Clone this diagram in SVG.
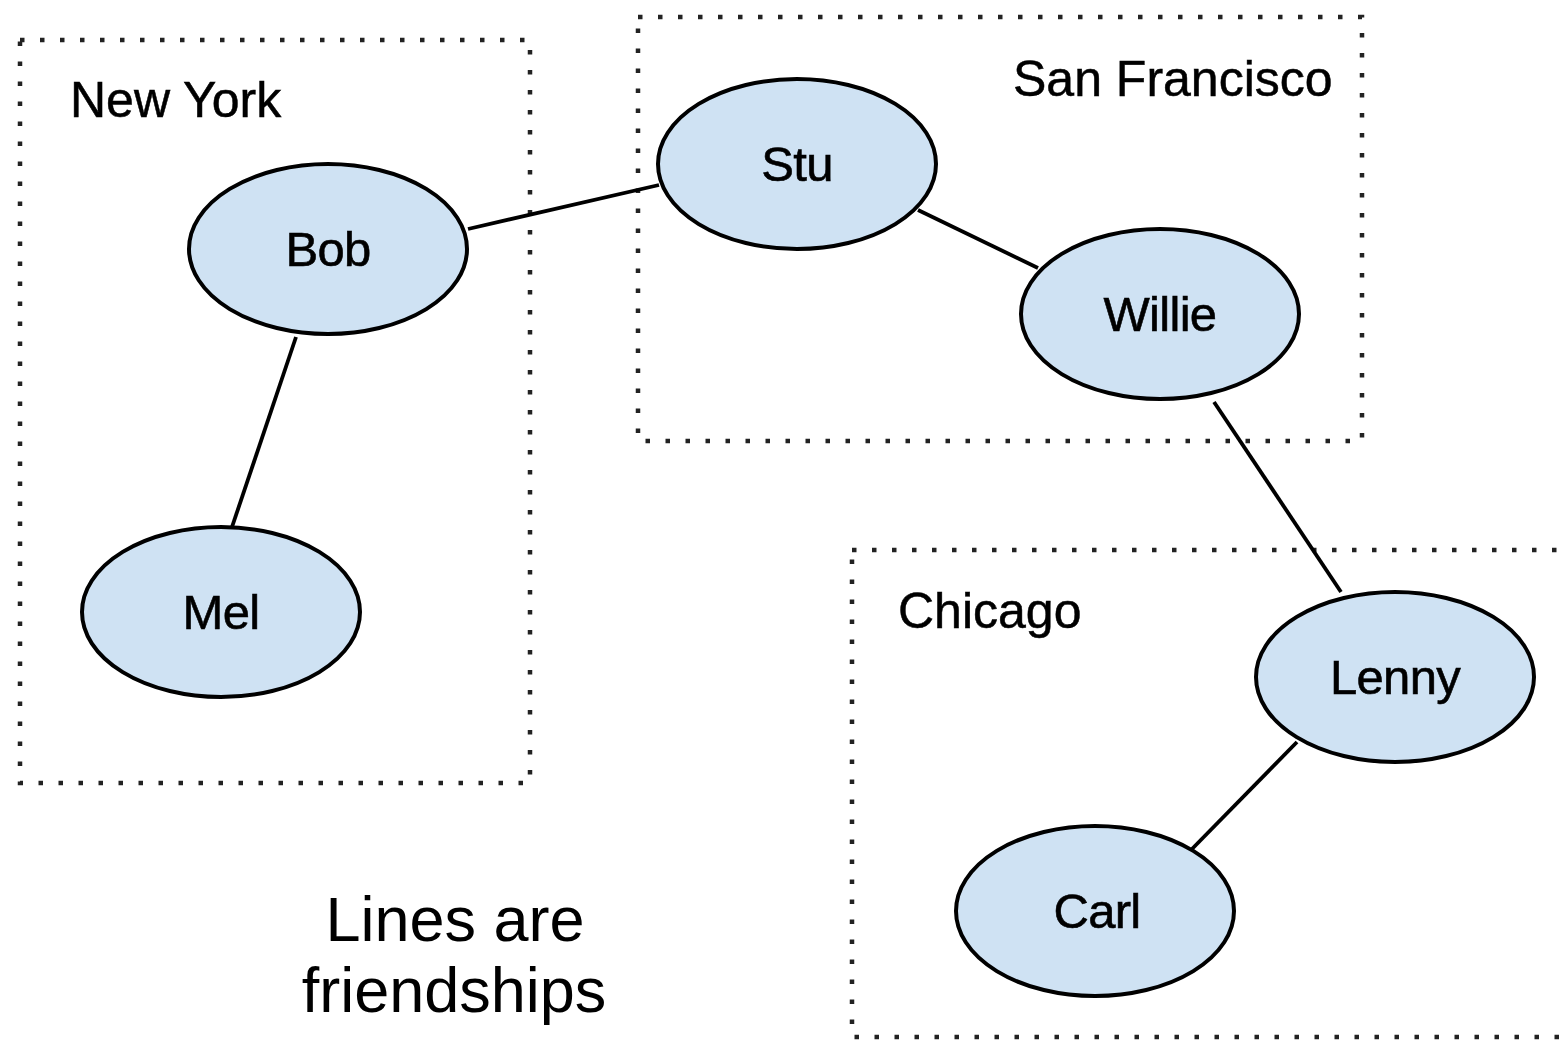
<svg xmlns="http://www.w3.org/2000/svg" width="1568" height="1041" viewBox="0 0 1568 1041">
  <style>
    .city { fill: none; stroke: #222; stroke-width: 4.5; stroke-dasharray: 4.5 15.5; }
    .node ellipse { fill: #cfe2f3; stroke: #000; stroke-width: 4; }
    .node text { font-family: "Liberation Sans", Arial, sans-serif; font-size: 49px; text-anchor: middle; fill: #000; stroke: #000; stroke-width: 0.6; letter-spacing: -0.7px; }
    .label { font-family: "Liberation Sans", Arial, sans-serif; font-size: 50px; fill: #000; stroke: #000; stroke-width: 0.5; }
    .note { font-family: "Liberation Sans", Arial, sans-serif; font-size: 63px; fill: #000; text-anchor: middle; }
    .edges line { stroke: #000; stroke-width: 3.8; }
  </style>
  <rect width="1568" height="1041" fill="#fff"/>

  <!-- city groupings -->
  <g id="new-york">
    <rect class="city" x="20" y="40" width="510" height="743"/>
    <text class="label" x="70" y="117">New York</text>
  </g>
  <g id="san-francisco">
    <rect class="city" x="638" y="17" width="724" height="424"/>
    <text class="label" x="1013" y="96">San Francisco</text>
  </g>
  <g id="chicago">
    <rect class="city" x="852" y="550" width="760" height="487"/>
    <text class="label" x="898" y="628">Chicago</text>
  </g>

  <!-- friendships -->
  <g id="edges" class="edges">
    <line x1="468" y1="229" x2="659" y2="185"/>
    <line x1="296" y1="337" x2="232" y2="527"/>
    <line x1="918" y1="210" x2="1038" y2="268"/>
    <line x1="1214" y1="402" x2="1341" y2="592"/>
    <line x1="1297" y1="742" x2="1192" y2="849"/>
  </g>

  <!-- people -->
  <g id="bob" class="node">
    <ellipse cx="328" cy="249" rx="139" ry="85"/>
    <text x="328" y="266">Bob</text>
  </g>
  <g id="mel" class="node">
    <ellipse cx="221" cy="612" rx="139" ry="85"/>
    <text x="221" y="629">Mel</text>
  </g>
  <g id="stu" class="node">
    <ellipse cx="797" cy="164" rx="139" ry="85"/>
    <text x="797" y="181">Stu</text>
  </g>
  <g id="willie" class="node">
    <ellipse cx="1160" cy="314" rx="139" ry="85"/>
    <text x="1160" y="331">Willie</text>
  </g>
  <g id="lenny" class="node">
    <ellipse cx="1395" cy="677" rx="139" ry="85"/>
    <text x="1395" y="694">Lenny</text>
  </g>
  <g id="carl" class="node">
    <ellipse cx="1095" cy="911" rx="139" ry="85"/>
    <text x="1097" y="928">Carl</text>
  </g>

  <g id="legend">
    <text class="note" x="455" y="941">Lines are</text>
    <text class="note" x="454" y="1012">friendships</text>
  </g>
</svg>
